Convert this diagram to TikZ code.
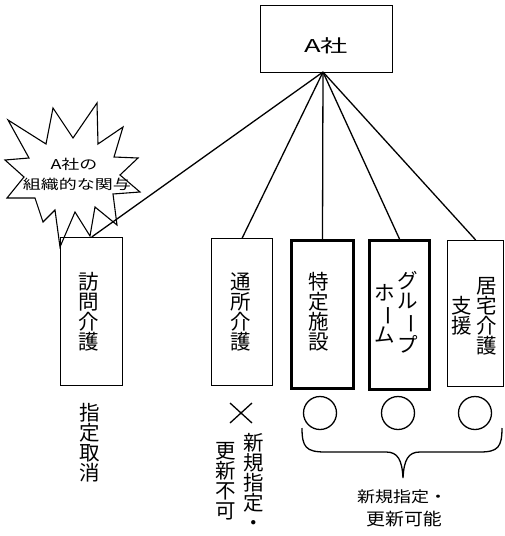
\documentclass[tikz,border=0pt]{standalone}
\usepackage{fontspec}
\usepackage{graphicx}
\usetikzlibrary{calc}
\setmainfont{Noto Sans CJK JP}
\newcommand{\vbar}{\rotatebox[origin=c]{-90}{ー}}
\begin{document}
\begin{tikzpicture}[x=1pt,y=-1pt,
  box/.style={draw, line width=1.4pt, inner sep=0pt, anchor=north west},
  thickbox/.style={box, line width=3pt},
  vtext/.style={font=\fontsize{20.5}{20}\selectfont, align=center, inner sep=0pt},
  htext/.style={font=\fontsize{18}{18}\selectfont, inner sep=0pt},
  conn/.style={line width=1.3pt},
  ok/.style={draw, circle, line width=1.3pt, minimum size=33pt, inner sep=0pt}]
\useasboundingbox (0,0) rectangle (504,536);
% company box
\node[box, minimum width=132pt, minimum height=67pt] (A) at (260,5) {};
\node[font=\fontsize{26}{26}\selectfont, inner sep=0pt] (At) at (326,46) {\scalebox{1.05}[0.68]{A社}};
\coordinate (apex) at (323,72);
% starburst
\draw[line width=1.1pt, fill=white]
  (8,120) -- (46,144) -- (53,108) -- (73,138) -- (97,103) -- (98,144) --
  (123,127) -- (114,157) -- (138,158) -- (120,175) -- (140,192) -- (113,194) --
  (117,225) -- (95,207) -- (90,236) -- (75,212) -- (60,247) -- (55,210) --
  (43,222) -- (35,198) -- (7,198) -- (24,177) -- (5,160) -- (29,158) -- cycle;
\node[htext] (s1) at (74,164) {\scalebox{1}[0.75]{A社の}};
\node[htext] (s2) at (77,184) {\scalebox{1}[0.75]{組織的な関与}};
% service boxes
\node[box, minimum width=62pt, minimum height=148pt] (b1) at (60,237) {};
\node[box, minimum width=61pt, minimum height=147pt] (b2) at (211,238) {};
\node[thickbox, minimum width=62pt, minimum height=148pt] (b3) at (290,239) {};
\node[thickbox, minimum width=60pt, minimum height=149pt] (b4) at (368,239) {};
\node[box, minimum width=56pt, minimum height=146pt] (b5) at (447,240) {};
% connectors
\draw[conn] (apex) -- (b1.north);
\draw[conn] (apex) -- (b2.north);
\draw[conn] (apex) -- (b3.north);
\draw[conn] (apex) -- (b4.north);
\draw[conn] (apex) -- (b5.north);
% texts in boxes
\node[vtext] (t1) at (89,312) {訪\\問\\介\\護};
\node[vtext] (t2) at (241,312) {通\\所\\介\\護};
\node[vtext] (t3) at (319,312) {特\\定\\施\\設};
\node[vtext] (t4a) at (408,312) {グ\\ル\\\vbar\\プ};
\node[vtext] (t4b) at (385,314) {ホ\\\vbar\\ム};
\node[vtext] (t5a) at (487,316) {居\\宅\\介\\護};
\node[vtext] (t5b) at (462,316) {支\\援};
% results
\node[vtext] (r1) at (90,443) {指\\定\\取\\消};
\coordinate (xc) at (241,413);
\draw[line width=1.3pt] ($(xc)+(-11,-10)$) -- ($(xc)+(11,10)$);
\draw[line width=1.3pt] ($(xc)+(11,-10)$) -- ($(xc)+(-11,10)$);
\node[vtext] (r2a) at (254,482) {新\\規\\指\\定\\・};
\node[vtext] (r2b) at (226,481) {更\\新\\不\\可};
\node[ok] (c1) at (320,413) {};
\node[ok] (c2) at (398,413) {};
\node[ok] (c3) at (475,413) {};
% brace
\coordinate (brL) at (302,428);
\coordinate (brR) at (502,428);
\coordinate (brT) at (403,478);
\draw[line width=1.3pt] (brL) .. controls (302,447) and (306,452) .. (325,452) -- (386,452)
  .. controls (398,452) and (402,460) .. (brT)
  .. controls (404,460) and (408,452) .. (420,452) -- (480,452)
  .. controls (498,452) and (502,447) .. (brR);
\node[htext, anchor=west] (l1) at (357,497) {\scalebox{1}[0.85]{新規指定・}};
\node[htext, anchor=west] (l2) at (366,519) {\scalebox{1.05}[0.95]{更新可能}};
\end{tikzpicture}
\end{document}
